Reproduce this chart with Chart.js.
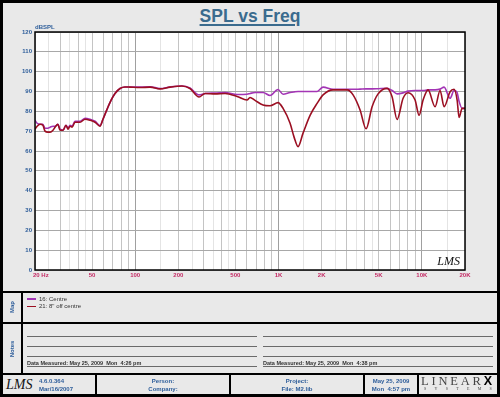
<!DOCTYPE html>
<html><head><meta charset="utf-8">
<script src="https://cdn.jsdelivr.net/npm/chart.js@4.4.1/dist/chart.umd.min.js"></script>
<style>
html,body{margin:0;padding:0;}
body{width:500px;height:397px;position:relative;overflow:hidden;font-family:"Liberation Sans",Arial,sans-serif;}
#frame{position:absolute;left:0;top:0;width:500px;height:397px;box-sizing:border-box;border:3px solid #000;background:#e9e9e9;}
.blk{position:absolute;background:#000;}
.gl{position:absolute;height:1px;background:#6a6a6a;}
.t{position:absolute;white-space:nowrap;}
.blue{color:#2d5d9a;font-weight:bold;}
.vlab{position:absolute;width:40px;height:8px;line-height:8px;text-align:center;font-size:6px;transform:rotate(-90deg);}
#title{position:absolute;left:0;width:500px;top:6px;text-align:center;font-size:17.5px;line-height:20px;font-weight:bold;color:#3a6b8e;text-decoration:underline;text-decoration-thickness:1.5px;text-underline-offset:2px;}
canvas{position:absolute;left:0;top:0;}
</style>
</head><body>
<div id="frame"></div>
<div id="title">SPL vs Freq</div>
<canvas id="c" width="500" height="290"></canvas>

<!-- section borders -->
<div class="blk" style="left:0;top:291px;width:500px;height:2px"></div>
<div class="blk" style="left:0;top:322px;width:500px;height:2px"></div>
<div class="blk" style="left:0;top:373px;width:500px;height:2px"></div>
<div class="blk" style="left:21px;top:291px;width:2px;height:84px"></div>
<div class="blk" style="left:95px;top:374px;width:2px;height:21px"></div>
<div class="blk" style="left:229px;top:374px;width:2px;height:21px"></div>
<div class="blk" style="left:363px;top:374px;width:2px;height:21px"></div>
<div class="blk" style="left:417px;top:374px;width:2px;height:21px"></div>

<div class="vlab blue" style="left:-8px;top:303px">Map</div>
<div class="vlab blue" style="left:-8px;top:345px">Notes</div>

<!-- legend -->
<div id="legend"></div>

<!-- notes lines -->
<div class="gl" style="left:27px;top:336px;width:230px"></div>
<div class="gl" style="left:27px;top:346px;width:230px"></div>
<div class="gl" style="left:27px;top:356px;width:230px"></div>
<div class="gl" style="left:27px;top:366px;width:230px"></div>
<div class="gl" style="left:263px;top:336px;width:230px"></div>
<div class="gl" style="left:263px;top:346px;width:230px"></div>
<div class="gl" style="left:263px;top:356px;width:230px"></div>
<div class="gl" style="left:263px;top:366px;width:230px"></div>
<div class="t" style="left:27px;top:361px;font-size:5.5px;line-height:5px;color:#333;font-weight:bold">Data Measured: May 25, 2009&nbsp; Mon&nbsp; 4:26 pm</div>
<div class="t" style="left:263px;top:361px;font-size:5.5px;line-height:5px;color:#333;font-weight:bold">Data Measured: May 25, 2009&nbsp; Mon&nbsp; 4:38 pm</div>

<!-- footer -->
<div class="t" style="left:6px;top:377px;font-size:14px;line-height:16px;font-style:italic;font-family:'Liberation Serif',serif;color:#111">LMS</div>
<div class="t blue" style="left:39px;top:378px;font-size:6px;line-height:7px">4.6.0.364</div>
<div class="t blue" style="left:39px;top:386px;font-size:6px;line-height:7px">Mar/16/2007</div>
<div class="t blue" style="left:97px;width:132px;text-align:center;top:378px;font-size:6px;line-height:7px">Person:</div>
<div class="t blue" style="left:97px;width:132px;text-align:center;top:386px;font-size:6px;line-height:7px">Company:</div>
<div class="t blue" style="left:231px;width:132px;text-align:center;top:378px;font-size:6px;line-height:7px">Project:</div>
<div class="t blue" style="left:231px;width:132px;text-align:center;top:386px;font-size:6px;line-height:7px">File: M2.lib</div>
<div class="t blue" style="left:365px;width:52px;text-align:center;top:378px;font-size:6px;line-height:7px">May 25, 2009</div>
<div class="t blue" style="left:365px;width:52px;text-align:center;top:386px;font-size:6px;line-height:7px">Mon&nbsp; 4:57 pm</div>
<div class="t" style="left:421px;top:375px;font-family:'Liberation Serif',serif;font-size:12.5px;line-height:12px;letter-spacing:2.8px;color:#444">LINEAR<b style="color:#000;font-family:'Liberation Sans',sans-serif;letter-spacing:0">X</b></div>
<div class="t" style="left:424px;top:387px;font-family:'Liberation Serif',serif;font-size:4px;line-height:4px;letter-spacing:8.3px;color:#444">SYSTEMS</div>

<script>
// ---- data ----
const freqs = [20,20.7,21.7,22.7,23.5,24.6,25.5,26.7,27.6,28.9,29.9,31.4,32.9,34.0,35.1,36.3,38.0,41.2,44.7,48.4,52.5,56.8,59.6,63.6,67.8,72.3,78.4,84.9,92.0,108,127,149,175,212,241,279,307,361,424,514,603,633,686,780,873,992,1076,1204,1284,1369,1483,1660,1858,2046,2402,3008,3312,3707,4082,4496,4952,5722,6198,6718,7398,8018,8970,9566,10200,11052,12368,13404,14296,15740,16788,17620,18194,19090,20000];
const centre = [75.5,74,73.5,73.5,71.5,71.5,72,72.5,72.5,73.5,
71,70.5,73,71.5,73,72.5,75,75,76.5,76,
75,72.8,76,81,85.5,89,91.5,92.3,92.3,92.2,
92.4,91.5,92.3,92.8,91.8,88.3,89,89.2,89.5,88.5,
88.6,89,89.5,89.5,88,91,88.6,89.5,89.8,90,
90,90,90,92.2,91.1,91.1,91.1,91.2,91.3,91.3,
91.4,91.6,90.5,88.8,89.3,90.2,90.5,90.5,90.5,90.8,
90.8,91.2,92.2,86.6,90.5,89.5,85,81.5,81.5];
const offCentre = [71,72.5,73.5,73,70,69.5,69.5,70.5,72,73.5,
70.5,70.5,73,71,72.5,72,74.5,74.5,76,75.5,
74.5,72.5,76,81,85.5,89,91.5,92.3,92.2,92,
92.2,91.3,92.2,92.8,91.5,87.2,89,88.8,89,87.5,
85.7,87,85.5,83.2,82.8,84.4,81.5,74,67,62.2,
69,78,84,88.3,90.8,90.8,88.3,80.7,71.2,82.3,
88.8,91.6,87.4,75.9,86.6,89.4,85.7,78,85.7,90.8,
82.3,90.5,82.3,89.9,91.1,85.7,76.9,81.5,81.5];
const seriesNames = ['16: Centre', '21: 8" off centre'];
const seriesColors = ['#a335b5', '#9b0f22'];
const xTickValues = [20,50,100,200,500,1000,2000,5000,10000,20000];
const xTickLabels = ['20 Hz','50','100','200','500','1K','2K','5K','10K','20K'];
const yUnit = 'dBSPL';

// legend
const lg = document.getElementById('legend');
seriesNames.forEach((n,i)=>{
  const y = 299 + i*7.7;
  lg.insertAdjacentHTML('beforeend',
    `<div style="position:absolute;left:27px;top:${y-0.75}px;width:9px;height:1.5px;background:${seriesColors[i]}"></div>`+
    `<div class="t" style="left:39px;top:${y-3.5}px;font-size:6px;line-height:7px;color:#333">${n.replace(/"/g,'&quot;')}</div>`);
});

// grid values
const gridVals = [];
[10,100,1000,10000].forEach(d=>{
  [1,1.5,2,2.5,3,3.5,4,4.5,5,6,7,8,9].forEach(m=>{
    const v = Math.round(m*d*10)/10;
    if (v>=20 && v<=20000) gridVals.push({v, m});
  });
});

const decor = {
  id:'decor',
  beforeDraw(chart){
    const {ctx, chartArea:a} = chart;
    ctx.save(); ctx.fillStyle='#fff';
    ctx.fillRect(a.left,a.top,a.right-a.left,a.bottom-a.top);
    ctx.restore();
  },
  afterDraw(chart){
    const {ctx, chartArea:a, scales} = chart;
    ctx.save();
    ctx.strokeStyle='#000'; ctx.lineWidth=1.5;
    ctx.strokeRect(a.left,a.top,a.right-a.left,a.bottom-a.top);
    ctx.font='bold 6px "Liberation Sans"'; ctx.fillStyle='#c42a64'; ctx.textBaseline='middle';
    xTickValues.forEach((v,i)=>{
      const px = scales.x.getPixelForValue(v);
      ctx.textAlign = i===0 ? 'left' : 'center';
      ctx.fillText(xTickLabels[i], i===0 ? px-2 : px, a.bottom+5.5);
    });
    ctx.fillStyle='#2d5d9a'; ctx.textAlign='left'; ctx.textBaseline='alphabetic';
    ctx.fillText(yUnit, a.left, a.top-3);
    ctx.font='italic 12px "Liberation Serif"'; ctx.fillStyle='#111'; ctx.textAlign='right';
    ctx.fillText('LMS', a.right-5, a.bottom-5);
    ctx.restore();
  }
};

const mk = arr => freqs.map((f,i)=>({x:f, y:arr[i]}));

new Chart(document.getElementById('c'), {
  type:'line',
  data:{ datasets:[
    {label:seriesNames[1], data:mk(offCentre), borderColor:seriesColors[1], borderWidth:1.6, pointRadius:0, cubicInterpolationMode:'monotone', fill:false},
    {label:seriesNames[0], data:mk(centre), borderColor:seriesColors[0], borderWidth:1.6, pointRadius:0, cubicInterpolationMode:'monotone', fill:false}
  ]},
  options:{
    responsive:false, animation:false, devicePixelRatio:1,
    layout:{padding:{left:0,right:35,top:32,bottom:0}},
    plugins:{legend:{display:false}, tooltip:{enabled:false}},
    scales:{
      x:{type:'logarithmic', min:20, max:20000,
        afterBuildTicks: s => { s.ticks = gridVals.map(g=>({value:g.v})); },
        afterFit: s => { s.height = 20; },
        ticks:{display:false},
        border:{display:false},
        grid:{drawTicks:false, lineWidth:1,
          color: c => {
            const g = gridVals.find(q=>q.v===c.tick.value);
            if (!g) return '#c0c0c0';
            if (g.m===1) return '#a0a0a0';
            if (Number.isInteger(g.m)) return '#c4c4c4';
            return '#e4e4e4';
          }}
      },
      y:{min:0, max:120,
        afterFit: s => { s.width = 35; },
        border:{display:false},
        ticks:{stepSize:5, padding:3, color:'#2d5d9a', font:{family:'Liberation Sans', size:6, weight:'bold'},
          callback: v => (v%10===0 ? String(v) : '')},
        grid:{drawTicks:false, lineWidth:1,
          color: c => (c.tick.value%10===0 ? '#a8a8a8' : '#e2e2e2')}
      }
    }
  },
  plugins:[decor]
});
</script>
</body></html>
